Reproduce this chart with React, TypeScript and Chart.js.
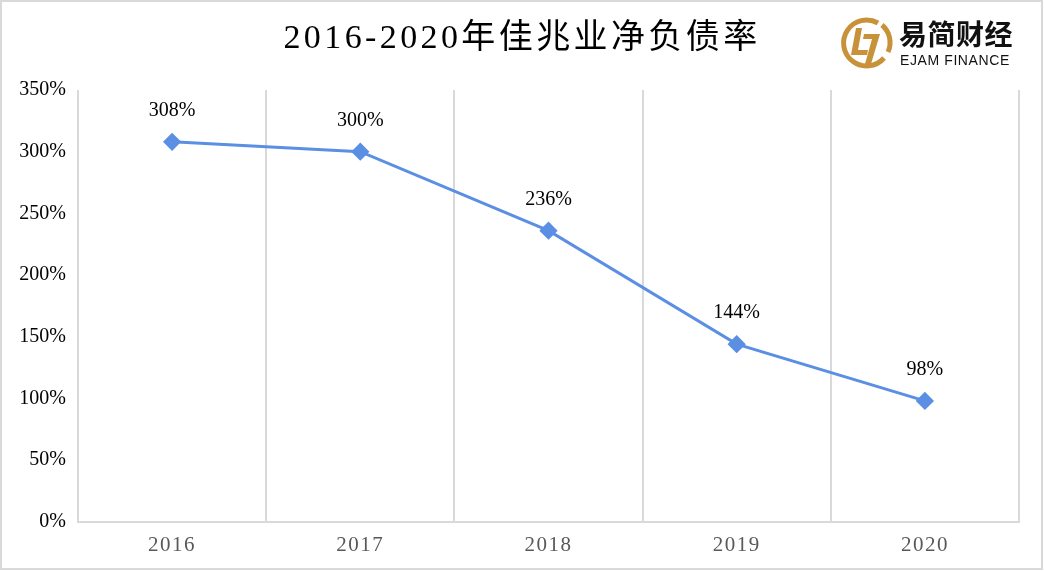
import React, { useEffect, useRef } from "react";
import { Chart, registerables } from "chart.js";

Chart.register(...registerables);

const years = ["2016", "2017", "2018", "2019", "2020"];
const netDebtRatio = [308, 300, 236, 144, 98];
const yMin = 0;
const yMax = 350;
const yStep = 50;
const chartTitle = "2016-2020年佳兆业净负债率";

const lineColor = "#5b8fe4";
const gridColor = "#d9d9d9";
const serif = "'Liberation Serif', 'Times New Roman', serif";

const dataLabelPlugin = {
  id: "dataLabels",
  afterDatasetsDraw(chart: any) {
    const ctx = chart.ctx;
    const meta = chart.getDatasetMeta(0);
    ctx.save();
    ctx.font = `20px ${serif}`;
    ctx.fillStyle = "#000";
    ctx.textAlign = "center";
    ctx.textBaseline = "middle";
    meta.data.forEach((pt: any, i: number) => {
      ctx.fillText(netDebtRatio[i] + "%", pt.x, pt.y - 31);
    });
    ctx.restore();
  },
};

const letterSpacingPlugin = {
  id: "xLetterSpacing",
  afterLayout(chart: any) {
    const s = chart.scales.x;
    if (s && !s.__wrapped) {
      const orig = s.drawLabels.bind(s);
      s.drawLabels = (ca: any) => {
        const ctx = chart.ctx;
        ctx.save();
        (ctx as any).letterSpacing = "1.5px";
        orig(ca);
        ctx.restore();
      };
      s.__wrapped = true;
    }
  },
};

function ChartCanvas() {
  const ref = useRef<HTMLCanvasElement | null>(null);
  useEffect(() => {
    if (!ref.current) return;
    const chart = new Chart(ref.current, {
      type: "line",
      data: {
        labels: years,
        datasets: [
          {
            data: netDebtRatio,
            borderColor: lineColor,
            backgroundColor: lineColor,
            borderWidth: 3,
            pointStyle: "rectRot",
            pointRadius: 7,
            pointHoverRadius: 7,
            pointBackgroundColor: lineColor,
            pointBorderColor: lineColor,
            tension: 0,
          },
        ],
      },
      options: {
        animation: false,
        responsive: false,
        maintainAspectRatio: false,
        events: [],
        layout: { padding: { top: 90, right: 25, bottom: 2, left: 0 } },
        plugins: {
          legend: { display: false },
          tooltip: { enabled: false },
          title: { display: false },
        },
        scales: {
          x: {
            type: "category",
            offset: true,
            grid: { offset: true, color: gridColor, lineWidth: 2, drawTicks: false },
            border: { display: true, color: gridColor, width: 2 },
            ticks: {
              color: "#595959",
              font: { family: serif, size: 21 },
              padding: 11,
              maxRotation: 0,
            },
          },
          y: {
            min: yMin,
            max: yMax,
            grid: { display: false, drawTicks: false },
            border: { display: false },
            ticks: {
              stepSize: yStep,
              color: "#000",
              font: { family: serif, size: 20 },
              padding: 12,
              callback: (v: any) => v + "%",
            },
            afterFit: (s: any) => {
              s.width = 78;
            },
          },
        },
      } as any,
      plugins: [dataLabelPlugin, letterSpacingPlugin],
    });
    return () => chart.destroy();
  }, []);
  return (
    <canvas
      ref={ref}
      width={1044}
      height={571}
      style={{ position: "absolute", left: 0, top: 0, width: 1044, height: 571 }}
    />
  );
}

function Logo() {
  const gold = "#c8923a";
  return (
    <div style={{ position: "absolute", left: 838, top: 14, width: 185, height: 58 }}>
      <svg width={56} height={58} viewBox="0 0 56 58" style={{ position: "absolute", left: 0, top: 0 }}>
        <path
          d="M 40 9 A 23 23 0 1 0 46 44"
          fill="none"
          stroke={gold}
          strokeWidth={5}
        />
        <path d="M 44 11 A 23 23 0 0 1 50 38" fill="none" stroke={gold} strokeWidth={5} />
        <path d="M 18 14 L 24 14 L 20 36 L 30 36 L 29 41 L 13 41 Z" fill={gold} />
        <path d="M 26 20 L 42 20 L 33 50 L 27 50 L 34 25 L 25 25 Z" fill={gold} />
      </svg>
      <div
        style={{
          position: "absolute",
          left: 61,
          top: 3,
          fontFamily: "'Noto Sans CJK SC', sans-serif",
          fontWeight: 700,
          fontSize: 28,
          lineHeight: "32px",
          letterSpacing: 0.5,
          color: "#111",
          whiteSpace: "nowrap",
        }}
      >
        易简财经
      </div>
      <div
        style={{
          position: "absolute",
          left: 62,
          top: 38,
          fontFamily: "'Liberation Sans', Arial, sans-serif",
          fontSize: 14,
          lineHeight: "16px",
          letterSpacing: 0.6,
          color: "#111",
          whiteSpace: "nowrap",
        }}
      >
        EJAM FINANCE
      </div>
    </div>
  );
}

export default function App() {
  useEffect(() => {
    document.body.style.margin = "0";
  }, []);
  return (
    <div style={{ position: "relative", width: 1044, height: 571, background: "#fff", overflow: "hidden" }}>
      <ChartCanvas />
      <div
        style={{
          position: "absolute",
          left: 0,
          top: 13,
          width: 1044,
          textAlign: "center",
          fontFamily: "'Liberation Serif', 'Noto Sans CJK SC', serif",
          fontSize: 34,
          lineHeight: "48px",
          letterSpacing: 3.4,
          color: "#000",
        }}
      >
        {chartTitle}
      </div>
      <Logo />
      <div
        style={{
          position: "absolute",
          left: 0,
          top: 0,
          width: 1043,
          height: 570,
          boxSizing: "border-box",
          border: `2px solid ${gridColor}`,
          pointerEvents: "none",
        }}
      />
    </div>
  );
}
